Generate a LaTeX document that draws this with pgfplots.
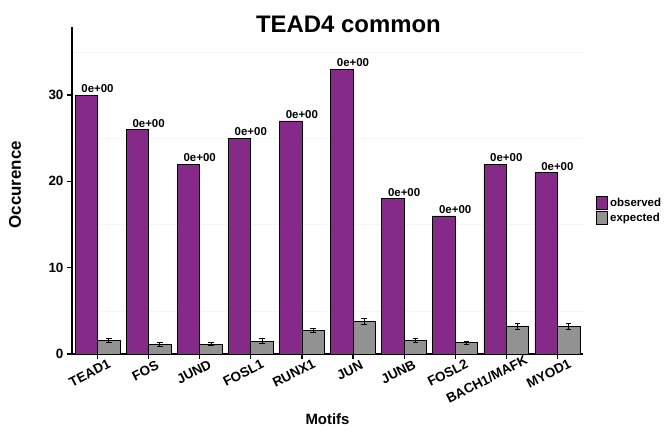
\documentclass[border=0pt]{standalone}
\usepackage{pgfplots}
\pgfplotsset{compat=1.18}
\usepackage{fontspec}
\setmainfont{Liberation Sans}
\definecolor{obs}{HTML}{852A88}
\definecolor{expc}{HTML}{929292}
% tick label padded on the right, so that anchor=north sits at 80% of the text
\newsavebox\lblbox
\newcommand\lbl[1]{\sbox\lblbox{#1}\usebox\lblbox\kern0.6\wd\lblbox}
\begin{document}
\begin{tikzpicture}[x=1bp,y=1bp]
\useasboundingbox (-72bp,-84bp) rectangle (596bp,354bp);
\begin{axis}[
    name=ax,
    at={(0,0)}, anchor=south west,
    scale only axis,
    width=511bp, height=327bp,
    xmin=-0.5, xmax=9.5,
    ymin=0, ymax=37.88,
    axis x line*=bottom, axis y line*=left,
    axis line style={line width=1.6bp, -},
    xtick={0,...,9},
    xticklabels={\lbl{TEAD1},\lbl{FOS},\lbl{JUND},\lbl{FOSL1},\lbl{RUNX1},\lbl{JUN},\lbl{JUNB},\lbl{FOSL2},\lbl{BACH1/MAFK},\lbl{MYOD1}},
    x tick label style={rotate=27, anchor=north, font=\fontsize{13.5}{13.5}\selectfont\bfseries, inner sep=0pt, yshift=-4bp},
    ytick={0,10,20,30},
    y tick label style={font=\fontsize{13.5}{13.5}\selectfont\bfseries},
    /pgf/number format/assume math mode=true,
    tick style={black, line width=1.2bp},
    tick align=outside,
    major tick length=5bp,
    ymajorgrids, minor ytick={5,15,25,35}, yminorgrids,
    major grid style={draw=none},
    minor grid style={gray!7, line width=0.6bp},
    minor tick length=0pt,
    ylabel={Occurence},
    ylabel style={font=\fontsize{17}{17}\selectfont\bfseries, at={(axis description cs:-0.1115,0.518)}, anchor=center},
    xlabel={Motifs},
    xlabel style={font=\fontsize{15}{15}\selectfont\bfseries, at={(axis description cs:0.5,-0.2)}, anchor=center},
    title={TEAD4 common},
    title style={font=\fontsize{24}{24}\selectfont\bfseries, at={(axis cs:4.91,37.5)}, anchor=center},
    ybar=0pt, bar width=0.44,
    legend style={at={(axis cs:9.75,18.3)}, anchor=north west, draw=none, fill=none,
        font=\fontsize{11.5}{11.5}\selectfont\bfseries, row sep=1bp, inner sep=0pt,
        /tikz/every even column/.append style={column sep=1bp}},
    legend image code/.code={\fill[#1] (0bp,-6.5bp) rectangle (11.5bp,6.5bp);},
    legend cell align=left,
    clip=false,
]
\addplot[fill=obs, draw=black, line width=0.7bp, bar shift=-0.22,
    nodes near coords={0e+00},
    nodes near coords style={font=\fontsize{11.5}{11.5}\selectfont\bfseries, anchor=south, xshift=11.2bp, inner sep=2bp}]
coordinates {(0,30)(1,26)(2,22)(3,25)(4,27)(5,33)(6,18)(7,16)(8,22)(9,21)};
\addlegendentry{observed}
\addplot[fill=expc, draw=black, line width=0.7bp, bar shift=0.22,
    error bars/.cd, y dir=both, y explicit,
    error bar style={black, line width=0.8bp}, error mark options={rotate=90, mark size=2.8bp, line width=0.8bp}]
coordinates {
    (0,1.55) +- (0,0.22)
    (1,1.1) +- (0,0.2)
    (2,1.15) +- (0,0.2)
    (3,1.5) +- (0,0.25)
    (4,2.7) +- (0,0.25)
    (5,3.8) +- (0,0.35)
    (6,1.6) +- (0,0.22)
    (7,1.3) +- (0,0.2)
    (8,3.25) +- (0,0.35)
    (9,3.15) +- (0,0.35)};
\addlegendentry{expected}
\end{axis}
\end{tikzpicture}
\end{document}
